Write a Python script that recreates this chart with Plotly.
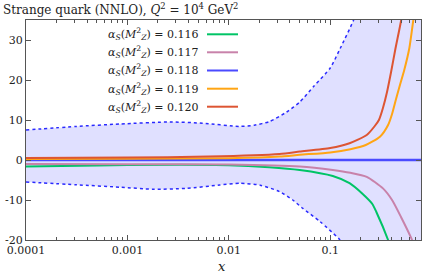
import plotly.graph_objects as go

# ---- data ----
band_up_x = [1e-4, 3.16e-4, 8.5e-4, 2.63e-3, 5.5e-3, 0.0126, 0.0178, 0.0251, 0.0372, 0.0501, 0.0692, 0.1, 0.126, 0.17, 0.25, 0.4, 0.8]
band_up_y = [7.5, 8.4, 9.0, 9.5, 9.2, 8.4, 8.7, 9.6, 12.0, 14.5, 18.5, 23.0, 28.0, 35.0, 47.0, 65.0, 95.0]
band_lo_x = [1e-4, 3.16e-4, 8.5e-4, 1.78e-3, 3.8e-3, 8.1e-3, 0.0129, 0.0204, 0.0316, 0.0427, 0.0537, 0.0794, 0.123, 0.2, 0.4, 0.8]
band_lo_y = [-5.5, -6.2, -6.8, -7.3, -7.1, -6.25, -5.8, -6.3, -7.9, -10.0, -12.1, -15.4, -19.8, -26.0, -40.0, -60.0]

a116_x = [1e-4, 5e-4, 1e-3, 0.01, 0.025, 0.05, 0.106, 0.155, 0.209, 0.26, 0.285, 0.372, 0.5]
a116_y = [-1.6, -1.35, -1.25, -1.3, -1.8, -2.5, -4.0, -5.8, -8.5, -11.0, -13.0, -20.0, -30.0]
a117_x = [1e-4, 1e-3, 0.01, 0.05, 0.106, 0.158, 0.229, 0.331, 0.407, 0.5, 0.631, 0.794]
a117_y = [-1.0, -1.05, -1.1, -1.6, -2.5, -3.2, -4.2, -7.1, -10.0, -14.3, -19.6, -26.0]
a118_x = [1e-4, 0.8]
a118_y = [0.0, 0.0]
a119_x = [1e-4, 1e-3, 0.01, 0.0316, 0.05, 0.1, 0.158, 0.224, 0.309, 0.372, 0.407, 0.447, 0.49, 0.537, 0.603, 0.66, 0.794]
a119_y = [0.25, 0.3, 0.45, 0.85, 1.3, 1.9, 2.7, 3.75, 5.8, 8.75, 11.5, 15.4, 19.0, 22.5, 28.0, 35.0, 48.0]
a120_x = [1e-4, 1e-3, 6.3e-3, 0.0316, 0.05, 0.1, 0.155, 0.229, 0.275, 0.302, 0.331, 0.363, 0.398, 0.437, 0.501, 0.631, 0.794]
a120_y = [0.5, 0.6, 0.85, 1.5, 2.1, 3.0, 4.2, 6.25, 8.5, 10.0, 13.0, 17.0, 22.0, 27.5, 35.0, 50.0, 68.0]

alpha_labels = ["0.116", "0.117", "0.118", "0.119", "0.120"]
x_tick_vals = [1e-4, 1e-3, 1e-2, 1e-1]
x_tick_text = ["0.0001", "0.001", "0.01", "0.1"]
y_tick_vals = [-20, -10, 0, 10, 20, 30]
y_tick_text = ["-20", "-10", "0", "10", "20", "30"]

series_x = [a116_x, a117_x, a118_x, a119_x, a120_x]
series_y = [a116_y, a117_y, a118_y, a119_y, a120_y]
colors = ["#00c466", "#c882aa", "#4a4aff", "#ffa514", "#dd5533"]
widths = [2, 2, 2.5, 2, 2]

FONT = "DejaVu Serif"
TXT = "#222222"

fig = go.Figure()
# uncertainty band
fig.add_trace(go.Scatter(x=band_up_x, y=band_up_y, mode="lines",
                         line=dict(color="#2a2aff", width=1.5, dash="dot", shape="spline", smoothing=0.6),
                         showlegend=False, hoverinfo="skip"))
fig.add_trace(go.Scatter(x=band_lo_x, y=band_lo_y, mode="lines",
                         line=dict(color="#2a2aff", width=1.5, dash="dot", shape="spline", smoothing=0.6),
                         fill="tonexty", fillcolor="rgba(0,0,255,0.12)", showlegend=False, hoverinfo="skip"))

for xs, ys, c, w in zip(series_x, series_y, colors, widths):
    fig.add_trace(go.Scatter(x=xs, y=ys, mode="lines",
                             line=dict(color=c, width=w, shape="spline", smoothing=0.6),
                             showlegend=False))

L, R, T, B = 26, 2, 20, 33
W, H = 423, 273
pw, ph = W - L - R, H - T - B


def px_to_paper_x(px):
    return (px - L) / pw


def px_to_paper_y(py):
    return (H - B - py) / ph


annotations = []
shapes = []
entry_y = [34.3, 52.3, 70.5, 88.7, 106.7]
for lab, c, ey in zip(alpha_labels, colors, entry_y):
    annotations.append(dict(
        x=px_to_paper_x(201), y=px_to_paper_y(ey), xref="paper", yref="paper",
        xanchor="right", yanchor="middle", showarrow=False,
        text="<i>α<sub>S</sub></i>(<i>M</i><sup>2</sup><sub><i>Z</i></sub>) = " + lab,
        font=dict(family=FONT, size=11, color=TXT)))
    shapes.append(dict(type="line", xref="paper", yref="paper",
                       x0=px_to_paper_x(207), x1=px_to_paper_x(238),
                       y0=px_to_paper_y(ey), y1=px_to_paper_y(ey),
                       line=dict(color=c, width=2)))

# title
annotations.append(dict(
    x=px_to_paper_x(1), y=px_to_paper_y(9), xref="paper", yref="paper",
    xanchor="left", yanchor="middle", showarrow=False,
    text="Strange quark (NNLO), <i>Q</i><sup>2</sup> = 10<sup>4</sup> GeV<sup>2</sup>",
    font=dict(family=FONT, size=12, color=TXT)))
# x-axis title
annotations.append(dict(
    x=px_to_paper_x(222), y=px_to_paper_y(266), xref="paper", yref="paper",
    xanchor="center", yanchor="middle", showarrow=False,
    text="<i>x</i>", font=dict(family=FONT, size=13, color=TXT)))

fig.update_layout(
    template="none",
    width=W, height=H,
    margin=dict(l=L, r=R, t=T, b=B, pad=0, autoexpand=False),
    paper_bgcolor="white", plot_bgcolor="white",
    font=dict(family=FONT, size=11, color=TXT),
    annotations=annotations, shapes=shapes,
    showlegend=False,
    xaxis=dict(type="log", range=[-4, -0.105], tickvals=x_tick_vals, ticktext=x_tick_text,
               automargin=False,
               tickfont=dict(family=FONT, size=11, color=TXT),
               ticks="inside", ticklen=5, tickcolor="#555", tickwidth=1,
               minor=dict(ticks="inside", ticklen=3, tickcolor="#555", dtick="D1", showgrid=False),
               showline=True, linecolor="#555", linewidth=1, mirror="allticks",
               showgrid=False, zeroline=False),
    yaxis=dict(range=[-20, 35], tickvals=y_tick_vals, ticktext=y_tick_text,
               ticks="inside", ticklen=5,
               automargin=False,
               tickfont=dict(family=FONT, size=11, color=TXT),
               tickcolor="#555", tickwidth=1,
               showline=True, linecolor="#555", linewidth=1, mirror="allticks",
               showgrid=False, zeroline=False),
)

fig.write_html("out.html", config={"displayModeBar": False},
               post_script="document.body.style.margin='0';document.body.style.padding='0';")
